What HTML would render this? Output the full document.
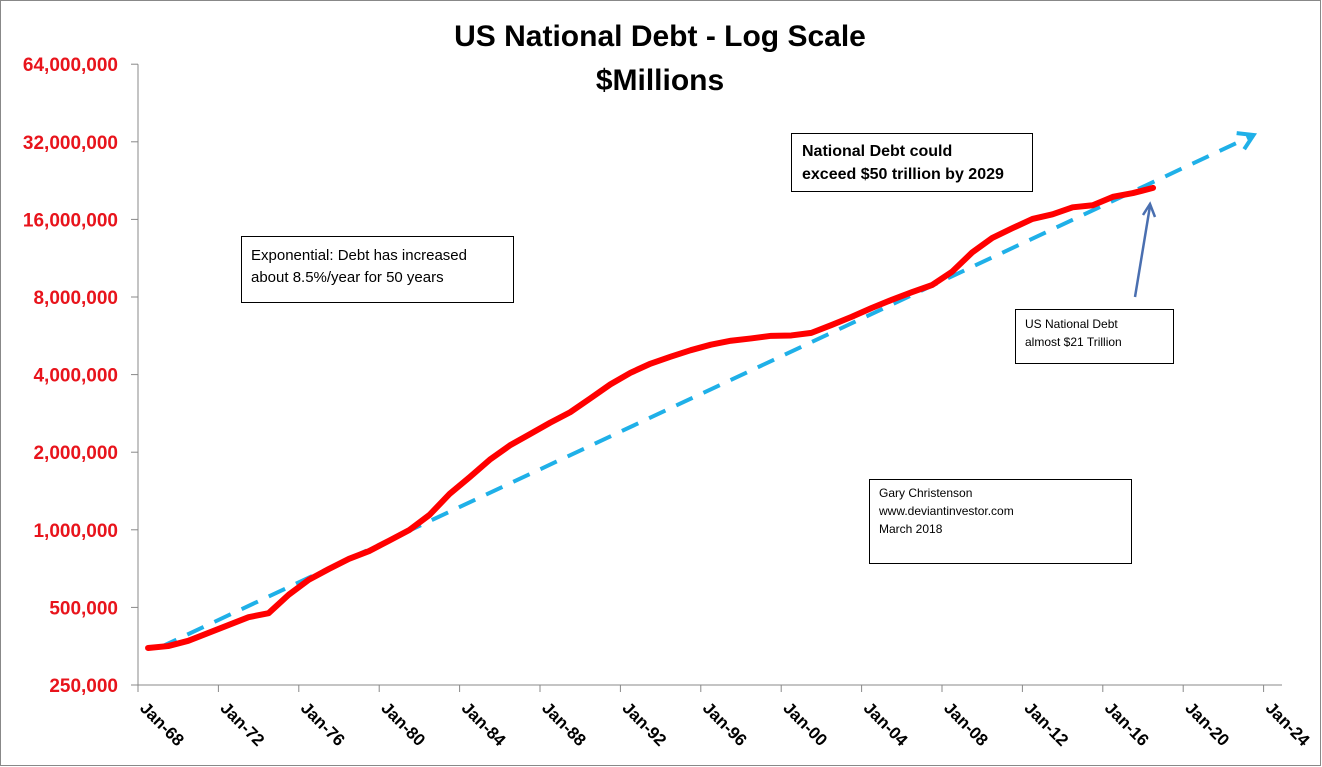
<!DOCTYPE html>
<html><head><meta charset="utf-8"><style>
body{margin:0;background:#fff;}
svg{display:block;}
text{font-family:"Liberation Sans",sans-serif;}
</style></head><body>
<svg id="chart" width="1322" height="767" xmlns="http://www.w3.org/2000/svg">
<rect x="0.5" y="0.5" width="1320" height="765" fill="#fff" stroke="#888"/>
<text x="660" y="46" text-anchor="middle" font-size="30" font-weight="bold">US National Debt - Log Scale</text>
<text x="660" y="90" text-anchor="middle" font-size="30" font-weight="bold">$Millions</text>
<g id="axes"></g>
<g id="marks"></g>
<g>
<rect x="791.5" y="133.5" width="241" height="58" fill="#fff" stroke="#000"/>
<text x="802" y="156" font-size="16" font-weight="bold">National Debt could</text>
<text x="802" y="179" font-size="16" font-weight="bold">exceed $50 trillion by 2029</text>
</g>
<g>
<rect x="241.5" y="236.5" width="272" height="66" fill="#fff" stroke="#000"/>
<text x="251" y="260" font-size="15">Exponential:  Debt has increased</text>
<text x="251" y="282" font-size="15">about 8.5%/year for 50 years</text>
</g>
<g>
<rect x="1015.5" y="309.5" width="158" height="54" fill="#fff" stroke="#000"/>
<text x="1025" y="328" font-size="12">US National Debt</text>
<text x="1025" y="346" font-size="12">almost $21 Trillion</text>
</g>
<g>
<rect x="869.5" y="479.5" width="262" height="84" fill="#fff" stroke="#000"/>
<text x="879" y="497" font-size="12">Gary Christenson</text>
<text x="879" y="515" font-size="12">www.deviantinvestor.com</text>
<text x="879" y="533" font-size="12">March 2018</text>
</g>
<g stroke="#4a6fb0" stroke-width="2.5" fill="none">
<line x1="1135" y1="297" x2="1150" y2="206"/>
<polyline points="1143,215 1150,204 1155,217"/>
</g>
</svg>
<script>
const yTicks=[250000,500000,1000000,2000000,4000000,8000000,16000000,32000000,64000000];
const yTickLabels=["250,000","500,000","1,000,000","2,000,000","4,000,000","8,000,000","16,000,000","32,000,000","64,000,000"];
const xTicks=[1968,1972,1976,1980,1984,1988,1992,1996,2000,2004,2008,2012,2016,2020,2024];
const xTickLabels=["Jan-68","Jan-72","Jan-76","Jan-80","Jan-84","Jan-88","Jan-92","Jan-96","Jan-00","Jan-04","Jan-08","Jan-12","Jan-16","Jan-20","Jan-24"];
const debtYears=[1968.5,1969.5,1970.5,1971.5,1972.5,1973.5,1974.5,1975.5,1976.5,1977.5,1978.5,1979.5,1980.5,1981.5,1982.5,1983.5,1984.5,1985.5,1986.5,1987.5,1988.5,1989.5,1990.5,1991.5,1992.5,1993.5,1994.5,1995.5,1996.5,1997.5,1998.5,1999.5,2000.5,2001.5,2002.5,2003.5,2004.5,2005.5,2006.5,2007.5,2008.5,2009.5,2010.5,2011.5,2012.5,2013.5,2014.5,2015.5,2016.5,2017.5,2018.5];
const debtValues=[348000,354000,371000,398000,427000,458000,475000,560000,640000,705000,772000,827000,908000,998000,1142000,1377000,1600000,1870000,2125000,2350000,2602000,2857000,3233000,3665000,4065000,4411000,4693000,4974000,5225000,5413000,5526000,5656000,5674000,5807000,6228000,6700000,7250000,7800000,8350000,8900000,10025000,11910000,13562000,14790000,16066000,16738000,17824000,18151000,19573000,20245000,21200000];
const trendYears=[1969.1,2023.5];
const trendValues=[350000,34000000];

const X0=138,PX_PER_YEAR=20.1,Y250=685,PX_PER_DOUBLING=77.6;
function xs(yr){return X0+(yr-1968)*PX_PER_YEAR;}
function ys(v){return Y250-Math.log2(v/250000)*PX_PER_DOUBLING;}
const NS="http://www.w3.org/2000/svg";
function mk(tag,attrs,parent){const e=document.createElementNS(NS,tag);for(const k in attrs)e.setAttribute(k,attrs[k]);parent.appendChild(e);return e;}
const axes=document.getElementById('axes'),marks=document.getElementById('marks');
let el=mk('line',{x1:X0,y1:ys(64000000),x2:X0,y2:Y250,stroke:'#888'},axes);


el=mk('line',{x1:131,y1:Y250,x2:1282,y2:Y250,stroke:'#888'},axes);


yTicks.forEach((v,i)=>{
  const y=ys(v);
  mk('line',{x1:131,y1:y,x2:X0,y2:y,stroke:'#888'},axes);
  const t=mk('text',{x:118,y:y+7,'text-anchor':'end','font-size':19,'font-weight':'bold',fill:'#e8141c'},axes);
  t.textContent=yTickLabels[i];
  
  
});
xTicks.forEach((yr,i)=>{
  const x=xs(yr);
  mk('line',{x1:x,y1:Y250,x2:x,y2:Y250+7,stroke:'#888'},axes);
  const t=mk('text',{x:0,y:0,'font-size':17,'font-weight':'bold',transform:`translate(${x+1},${Y250+24}) rotate(45)`},axes);
  t.textContent=xTickLabels[i];
  
  
});
const tx1=xs(trendYears[0]),ty1=ys(trendValues[0]),tx2=xs(trendYears[1]),ty2=ys(trendValues[1]);
el=mk('line',{x1:tx1,y1:ty1,x2:tx2,y2:ty2,stroke:'#1fb0e8','stroke-width':4,'stroke-dasharray':'18,12'},marks);


const ang=Math.atan2(ty2-ty1,tx2-tx1),L=17;
const pts=[[tx2-L*Math.cos(ang-0.55),ty2-L*Math.sin(ang-0.55)],[tx2,ty2],[tx2-L*Math.cos(ang+0.55),ty2-L*Math.sin(ang+0.55)]];
el=mk('polyline',{points:pts.map(p=>p.join(',')).join(' '),fill:'none',stroke:'#1fb0e8','stroke-width':4},marks);


el=mk('polyline',{points:debtYears.map((yr,i)=>xs(yr)+','+ys(debtValues[i])).join(' '),fill:'none',stroke:'#f00','stroke-width':6,'stroke-linejoin':'round','stroke-linecap':'round'},marks);


</script>
</body></html>
